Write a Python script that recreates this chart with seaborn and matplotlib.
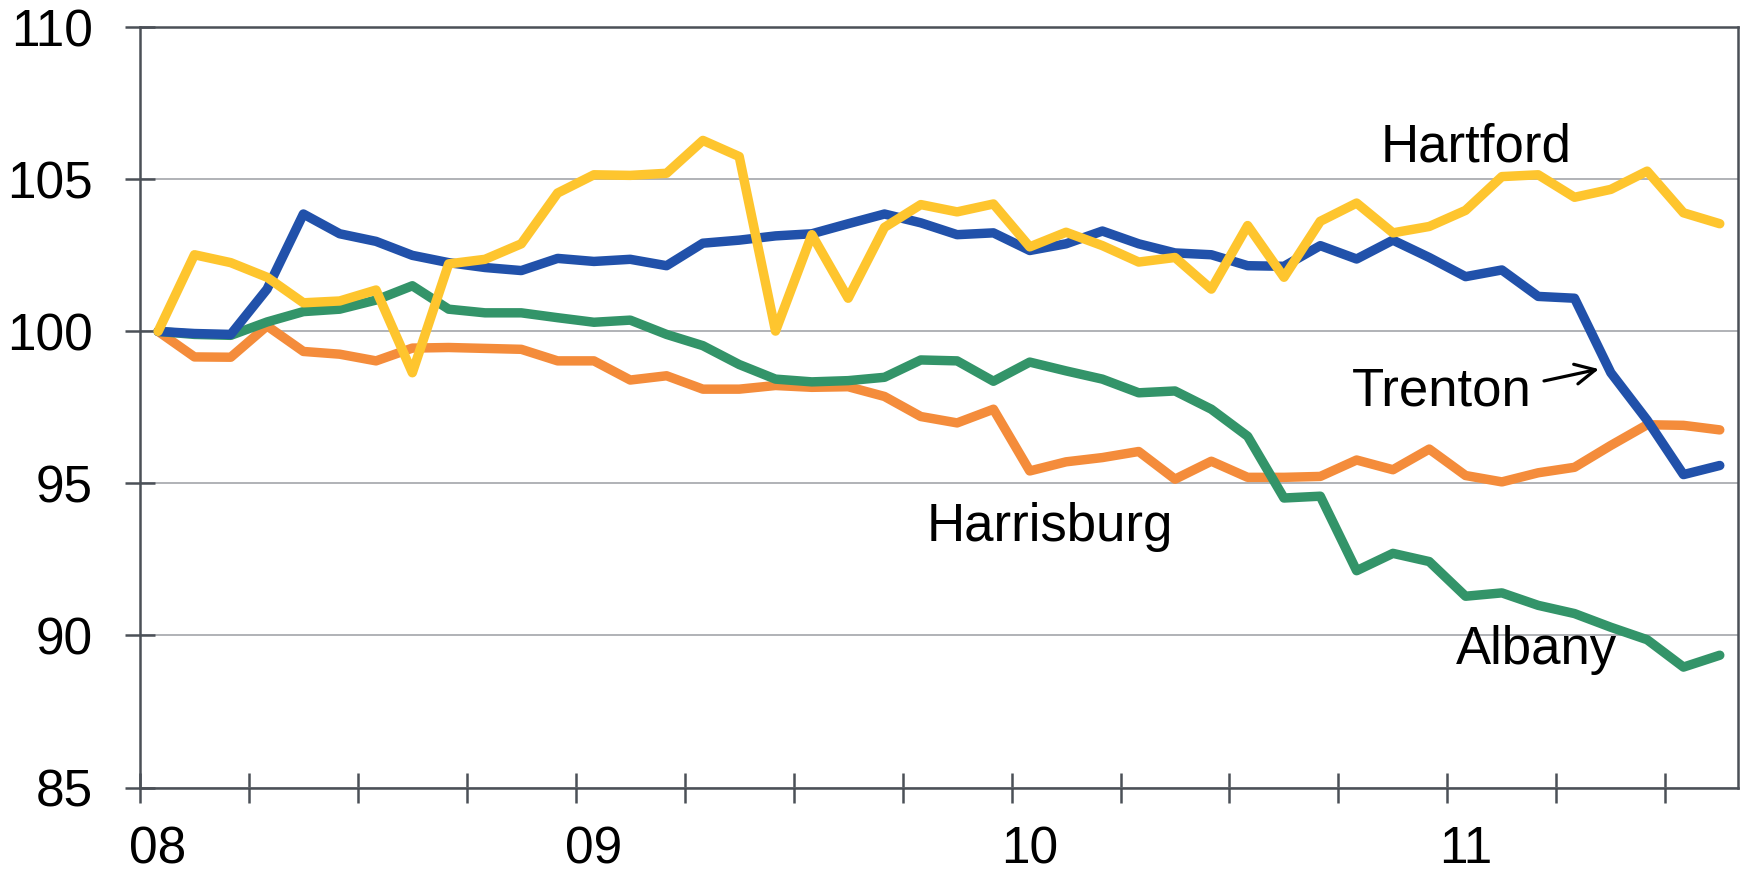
import numpy as np
import pandas as pd
import matplotlib.pyplot as plt
import seaborn as sns
from matplotlib.ticker import FixedLocator

# === Data: monthly index, Jan 2008 = 100 (Jan 2008 .. Aug 2011) ===
months = list(range(44))
year_ticks = [0, 12, 24, 36]
year_labels = ["08", "09", "10", "11"]

trenton = [100, 99.93, 99.9, 101.39, 103.86, 103.21, 102.96, 102.5, 102.26, 102.1,
           102.0, 102.4, 102.3, 102.37, 102.16, 102.9, 103.0, 103.14, 103.21, 103.54,
           103.86, 103.57, 103.18, 103.24, 102.66, 102.88, 103.3, 102.88, 102.58, 102.52,
           102.16, 102.14, 102.82, 102.38, 103.0, 102.43, 101.8, 102.02, 101.15, 101.09,
           98.64, 97.08, 95.29, 95.59]
hartford = [100, 102.52, 102.26, 101.78, 100.94, 101.0, 101.36, 98.64, 102.22, 102.37,
            102.88, 104.55, 105.15, 105.13, 105.2, 106.28, 105.75, 100.01, 103.18, 101.09,
            103.42, 104.17, 103.93, 104.19, 102.78, 103.26, 102.82, 102.28, 102.43, 101.39,
            103.48, 101.78, 103.62, 104.22, 103.24, 103.45, 103.98, 105.09, 105.15, 104.41,
            104.67, 105.27, 103.9, 103.54]
albany = [100, 99.9, 99.87, 100.31, 100.65, 100.73, 101.03, 101.5, 100.73, 100.61,
          100.61, 100.45, 100.3, 100.37, 99.9, 99.53, 98.91, 98.43, 98.34, 98.38,
          98.49, 99.06, 99.03, 98.36, 98.99, 98.7, 98.43, 97.98, 98.04, 97.44,
          96.55, 94.52, 94.58, 92.13, 92.7, 92.43, 91.29, 91.4, 90.99, 90.72,
          90.27, 89.86, 88.96, 89.35]
harrisburg = [100, 99.16, 99.15, 100.18, 99.34, 99.25, 99.03, 99.45, 99.47, 99.44,
              99.41, 99.03, 99.03, 98.4, 98.54, 98.1, 98.1, 98.22, 98.16, 98.18,
              97.86, 97.2, 96.99, 97.44, 95.41, 95.71, 95.85, 96.05, 95.14, 95.73,
              95.2, 95.2, 95.23, 95.77, 95.45, 96.13, 95.26, 95.05, 95.35, 95.53,
              96.25, 96.93, 96.91, 96.76]

# draw order bottom -> top
series = {"Harrisburg": harrisburg, "Albany": albany, "Trenton": trenton, "Hartford": hartford}
colors = {"Harrisburg": "#F48C3B", "Albany": "#339469", "Trenton": "#2151AA", "Hartford": "#FEC52E"}

df = pd.concat(
    [pd.DataFrame({"Month": months, "Index": vals, "City": name}) for name, vals in series.items()],
    ignore_index=True,
)

sns.set_style("white")
plt.rcParams["font.family"] = ["Liberation Sans", "DejaVu Sans"]
plt.rcParams["text.color"] = "black"

axis_col = "#4B5057"

fig = plt.figure(figsize=(17.43, 8.75), dpi=100)
ax = fig.add_axes([0.0803, 0.1, 0.9971 - 0.0803, 0.9688 - 0.1])

sns.lineplot(
    data=df, x="Month", y="Index", hue="City", hue_order=list(series.keys()),
    palette=colors, linewidth=6.8, legend=False, ax=ax,
    solid_capstyle="round", solid_joinstyle="round",
)

ax.set_xlim(-0.5, 43.5)
ax.set_ylim(85, 110)
ax.set_xlabel("")
ax.set_ylabel("")

# y axis
ax.set_yticks([85, 90, 95, 100, 105, 110])
ax.tick_params(axis="y", direction="inout", length=22, width=1.8, color=axis_col,
               labelcolor="black", labelsize=37, pad=23, left=True)
ax.yaxis.grid(True, color="#A3A6AA", lw=1.2)
ax.xaxis.grid(False)

# x axis: labels at January, tick marks at quarter boundaries
ax.xaxis.set_major_locator(FixedLocator(year_ticks))
ax.set_xticklabels(year_labels)
ax.xaxis.set_minor_locator(FixedLocator(np.arange(-0.5, 42, 3)))
ax.tick_params(axis="x", which="major", length=0, labelsize=37, labelcolor="black", pad=27)
ax.tick_params(axis="x", which="minor", direction="inout", length=22, width=1.8,
               color=axis_col, bottom=True)

for side in ["left", "right", "top", "bottom"]:
    ax.spines[side].set_visible(True)
    ax.spines[side].set_color(axis_col)
    ax.spines[side].set_linewidth(1.8)

# labels
ax.text(36.3, 105.6, "Hartford", ha="center", va="baseline", fontsize=38)
ax.text(35.35, 97.55, "Trenton", ha="center", va="baseline", fontsize=38)
ax.text(24.55, 93.1, "Harrisburg", ha="center", va="baseline", fontsize=38)
ax.text(37.95, 89.05, "Albany", ha="center", va="baseline", fontsize=38)
ax.annotate("", xy=(39.67, 98.76), xytext=(38.16, 98.37),
            arrowprops=dict(arrowstyle="->", color="black", lw=2.3, mutation_scale=36,
                            shrinkA=0, shrinkB=0))

plt.savefig("out.png", dpi=100)
plt.close()
